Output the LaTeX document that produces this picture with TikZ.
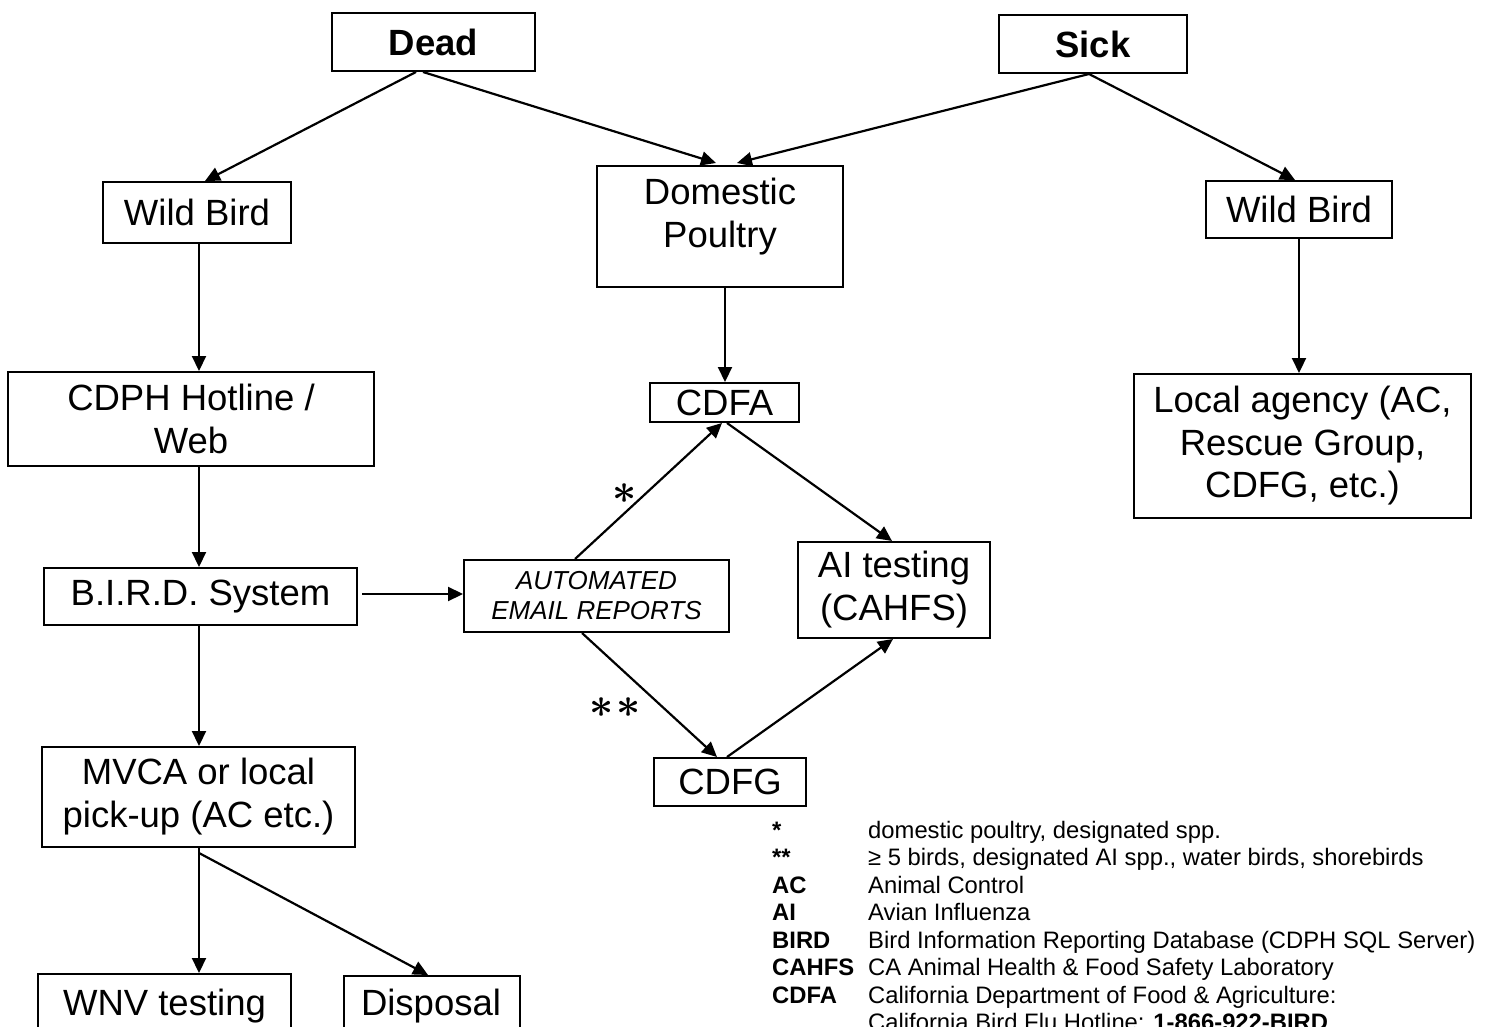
\documentclass[tikz,border=0pt]{standalone}
\usepackage{fontspec}
\setmainfont{Liberation Sans}
\usepackage{graphicx}
\usetikzlibrary{arrows.meta}
\newcommand\mainsz{\fontsize{36.5}{43}\selectfont}
\newcommand\legsz{\fontsize{23.8}{27.5}\selectfont}
\tikzset{
  box/.style={draw, line width=2pt, inner sep=2pt, align=center, font=\mainsz},
  txt/.style={inner sep=0pt, align=center, font=\mainsz},
  arr/.style={line width=2.2pt, -{Triangle[length=15pt,width=14pt]}},
  legabbr/.style={anchor=base west, inner sep=0pt, font=\legsz\bfseries},
  legdesc/.style={anchor=base west, inner sep=0pt, font=\legsz},
  starlbl/.style={inner sep=0pt},
}
\begin{document}
\begin{tikzpicture}[x=1pt,y=-1pt]
\clip (0,0) rectangle (1492,1027);
\fill[white] (0,0) rectangle (1492,1027);

% boxes
\node[box, font=\mainsz\bfseries, minimum width=203pt, minimum height=58pt] (dead) at (433.5,42) {Dead};
\node[box, font=\mainsz\bfseries, minimum width=188pt, minimum height=58pt] (sick) at (1093,44) {Sick};
\node[box, minimum width=188pt, minimum height=61pt] (wildL) at (197,212.5) {Wild Bird};
\node[box, minimum width=246pt, minimum height=121pt] (dp) at (720,226.5) {};
\node[txt] (dptext) at (720,217) {Domestic\\Poultry};
\node[box, minimum width=186pt, minimum height=57pt] (wildR) at (1299,209.5) {Wild Bird};
\node[box, minimum width=366pt, minimum height=94pt] (cdph) at (191,419) {CDPH Hotline /\\Web};
\node[box, minimum width=149pt, minimum height=39pt, inner sep=1pt] (cdfa) at (724.5,402.5) {CDFA};
\node[box, font=\fontsize{36.5}{42.5}\selectfont, minimum width=337pt, minimum height=144pt] (local) at (1302.5,446) {Local agency (AC,\\Rescue Group,\\CDFG, etc.)};
\node[box, minimum width=192pt, minimum height=96pt] (ai) at (894,590) {AI testing\\(CAHFS)};
\node[box, minimum width=313pt, minimum height=57pt] (bird) at (200.5,596.5) {B.I.R.D. System};
\node[box, font=\fontsize{26}{30}\selectfont\itshape, minimum width=265pt, minimum height=72pt] (auto) at (596.5,596) {AUTOMATED\\EMAIL REPORTS};
\node[box, minimum width=152pt, minimum height=48pt, inner sep=1pt] (cdfg) at (730,782) {CDFG};
\node[box, minimum width=313pt, minimum height=100pt] (mvca) at (198.5,797) {MVCA or local\\pick-up (AC etc.)};
\node[box, minimum width=253pt, minimum height=80pt, anchor=north] (wnv) at (164.5,973) {};
\node[txt, anchor=base] (wnvtext) at (164.5,1015) {WNV testing};
\node[box, minimum width=176pt, minimum height=80pt, anchor=north] (disp) at (432,975) {};
\node[txt, anchor=base] (disptext) at (431,1015) {Disposal};

% connectors
\draw[arr] ([xshift=-17.5pt]dead.south) -- ([xshift=8pt]wildL.north);
\draw[arr] ([xshift=-10.5pt]dead.south) -- ([xshift=-4pt,yshift=2pt]dp.north);
\draw[arr] ([xshift=-4pt]sick.south) -- ([xshift=17pt,yshift=2pt]dp.north);
\draw[arr] ([xshift=-4pt]sick.south) -- ([xshift=-4pt]wildR.north);
\draw[arr] ([xshift=2pt]wildL.south) -- ([xshift=8pt]cdph.north);
\draw[arr] ([xshift=5pt]dp.south) -- ([xshift=0.5pt]cdfa.north);
\draw[arr] (wildR.south) -- ([xshift=-3.5pt]local.north);
\draw[arr] ([xshift=8pt]cdph.south) -- ([xshift=-1.5pt]bird.north);
\draw[arr] ([xshift=4pt,yshift=2.5pt]bird.east) -- ([yshift=2pt]auto.west);
\draw[arr] ([xshift=-21.5pt]auto.north) -- ([xshift=-2.5pt]cdfa.south);
\draw[arr] ([xshift=2.5pt]cdfa.south) -- ([xshift=-2pt]ai.north);
\draw[arr] ([xshift=-14.5pt]auto.south) -- ([xshift=-13pt]cdfg.north);
\draw[arr] ([xshift=-3pt]cdfg.north) -- ([xshift=-1pt]ai.south);
\draw[arr] ([xshift=-1.5pt]bird.south) -- ([xshift=0.5pt]mvca.north);
\draw[arr] ([xshift=0.5pt]mvca.south) -- ([xshift=34.5pt]wnv.north);
\draw[arr] ([xshift=0.5pt,yshift=-5pt]mvca.south) -- ([xshift=-4pt]disp.north);

% star labels
\node[starlbl] (star1) at (625,494) {\scalebox{4.2}{\boldmath$\ast$}};
\node[starlbl] (star2) at (615,708) {\scalebox{4.2}{\boldmath$\ast\mkern1mu\ast$}};

% legend
\node[legabbr] (a0) at (772,838) {*};
\node[legdesc] (d0) at (868,838) {domestic poultry, designated spp.};
\node[legabbr] (a1) at (772,865.5) {**};
\node[legdesc] (d1) at (868,865.5) {≥ 5 birds, designated AI spp., water birds, shorebirds};
\node[legabbr] (a2) at (772,893) {AC};
\node[legdesc] (d2) at (868,893) {Animal Control};
\node[legabbr] (a3) at (772,920.5) {AI};
\node[legdesc] (d3) at (868,920.5) {Avian Influenza};
\node[legabbr] (a4) at (772,948) {BIRD};
\node[legdesc] (d4) at (868,948) {Bird Information Reporting Database (CDPH SQL Server)};
\node[legabbr] (a5) at (772,975.5) {CAHFS};
\node[legdesc] (d5) at (868,975.5) {CA Animal Health \& Food Safety Laboratory};
\node[legabbr] (a6) at (772,1003) {CDFA};
\node[legdesc] (d6) at (868,1003) {California Department of Food \& Agriculture:};
\node[legdesc] (d7) at (868,1030.5) {California Bird Flu Hotline: \textbf{1-866-922-BIRD}};
\end{tikzpicture}
\end{document}
